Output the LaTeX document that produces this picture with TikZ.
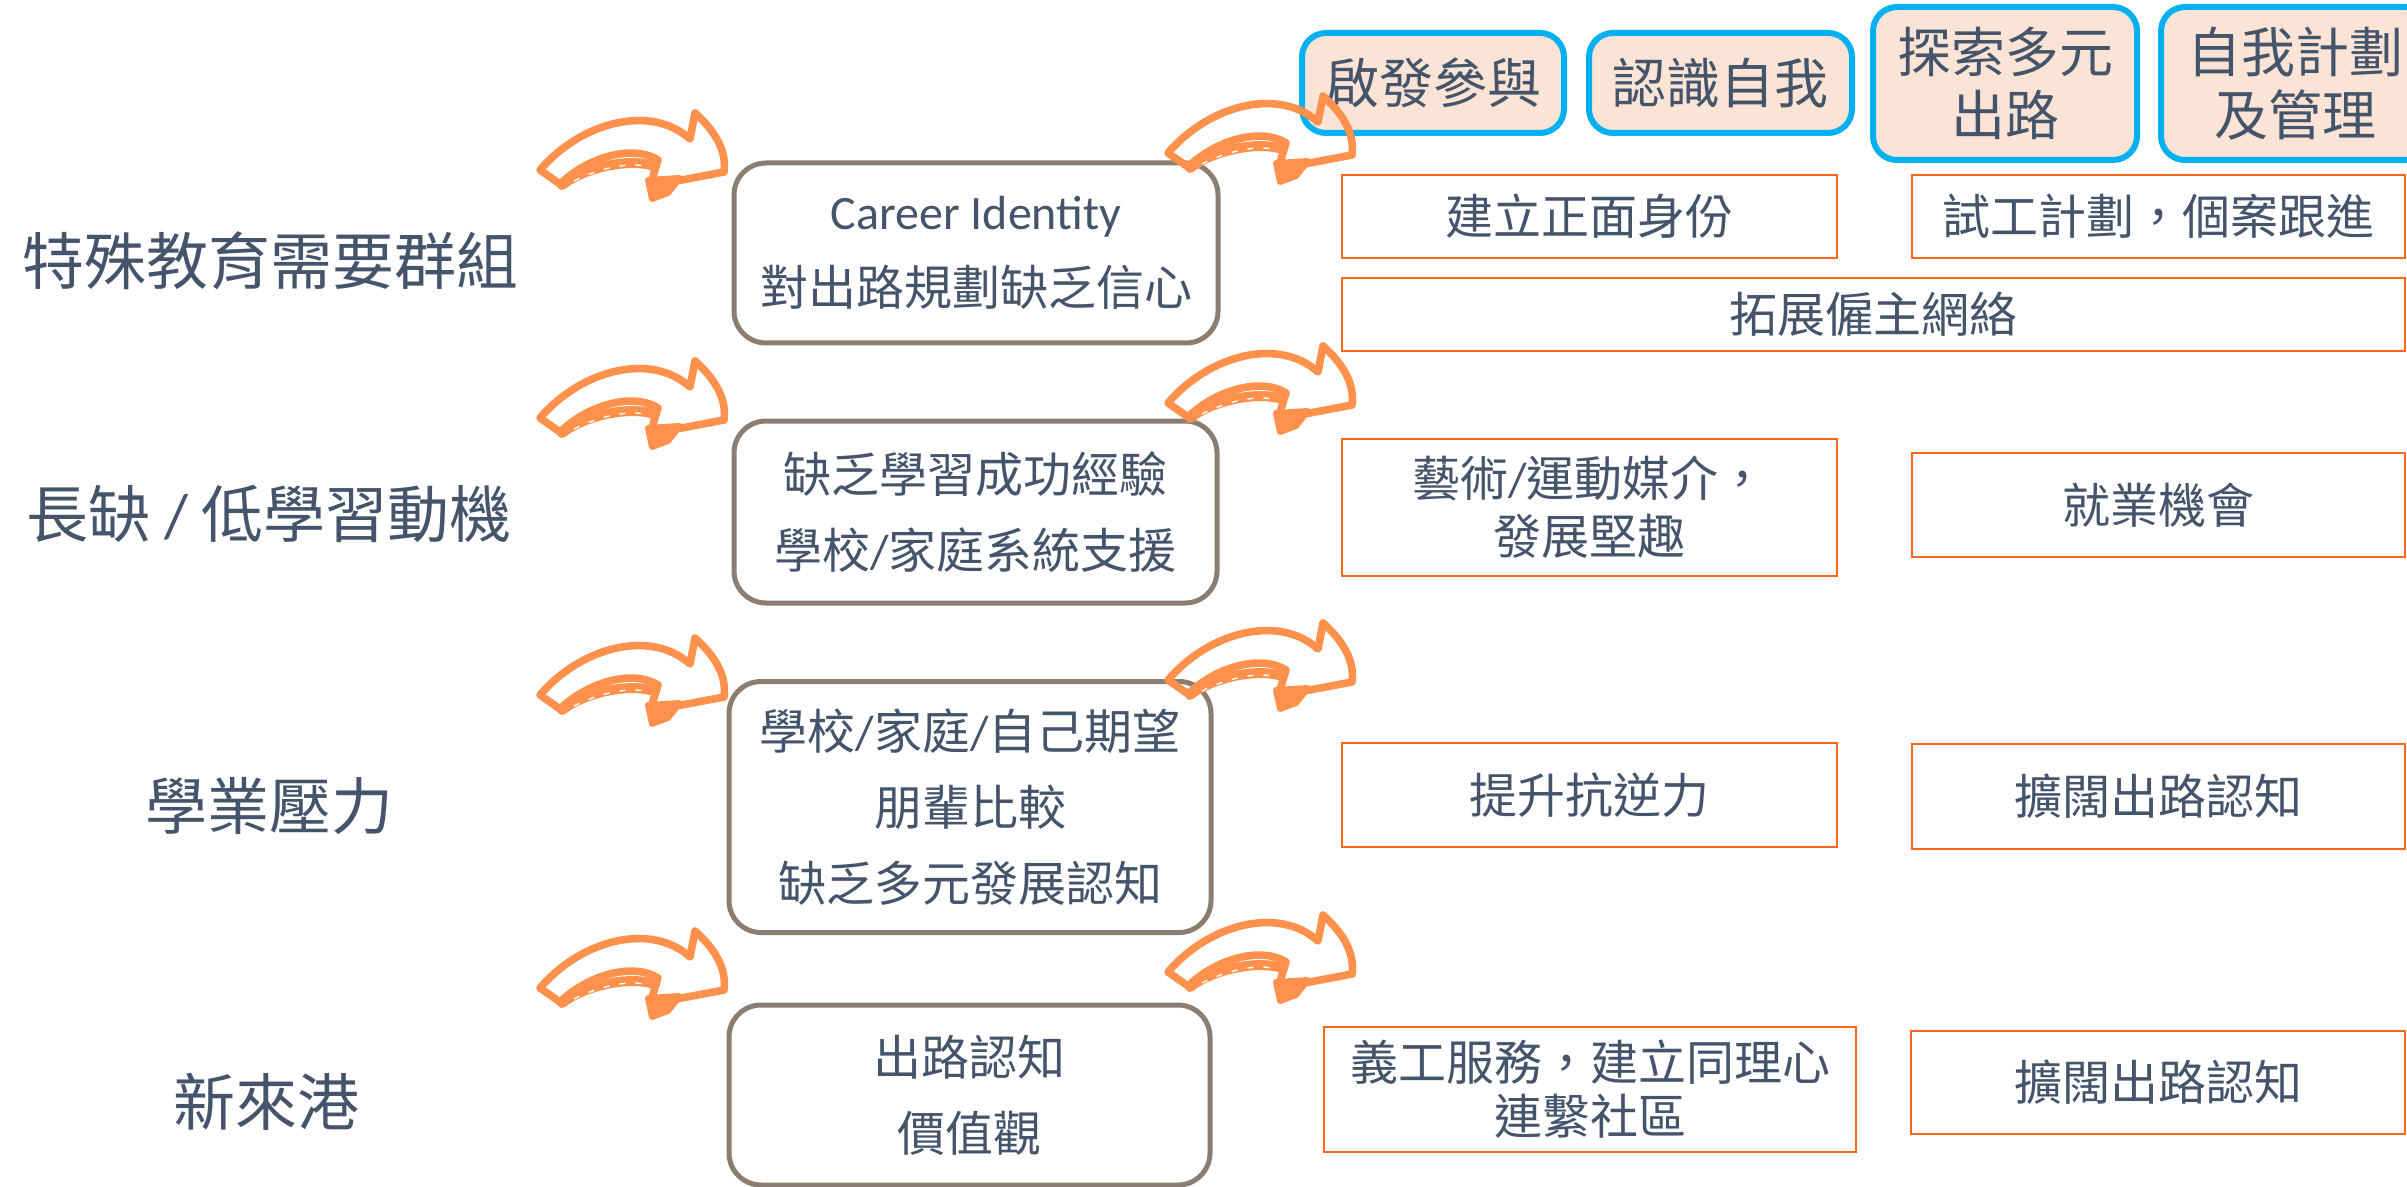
\documentclass[tikz,border=0pt]{standalone}
\usepackage{fontspec}
\setmainfont{Noto Sans CJK TC}
\newfontfamily\lat{Carlito}
\definecolor{txt}{HTML}{44546A}
\definecolor{arrorange}{RGB}{255,145,77}
\definecolor{gline}{RGB}{139,125,111}
\definecolor{oline}{RGB}{255,102,25}
\definecolor{blueln}{RGB}{0,176,240}
\definecolor{pfill}{RGB}{251,228,214}
\begin{document}
\begin{tikzpicture}[x=0.5pt,y=-0.5pt,
  mid/.style={draw=gline, line width=2.5pt, rounded corners=16pt, inner sep=0pt, text=txt, align=center, font=\fontsize{24}{38}\selectfont},
  obx/.style={draw=oline, line width=1.3pt, inner sep=0pt, text=txt, align=center, font=\fontsize{24}{29}\selectfont},
  tbx/.style={draw=blueln, fill=pfill, line width=3pt, rounded corners=12pt, inner sep=0pt, text=txt, align=center, font=\fontsize{27}{31.5}\selectfont},
  lbl/.style={text=txt, font=\fontsize{31}{36}\selectfont, inner sep=0pt},
  sketcharrow/.pic={
    \draw[draw=arrorange, line width=3.8pt, line join=round, line cap=round]
      (0,0) .. controls (40,-47) and (110,-67) .. (150,-31) -- (155,-57)
      .. controls (174,-40) and (187,-20) .. (184,2) -- (110,16) -- (118,-10)
      .. controls (95,-25) and (50,-15) .. (20,14) -- cycle;
    \draw[draw=arrorange, line width=5pt, line cap=round]
      (22,15) .. controls (45,-3) and (90,-12) .. (114,-4);
    \draw[draw=arrorange, fill=arrorange, line width=3pt, line join=round]
      (108,10) -- (140,8) -- (128,23) -- (112,29) -- cycle;
    \draw[white, line width=0.7pt, dash pattern=on 3pt off 5pt]
      (34,11) .. controls (55,0) and (85,-8) .. (104,-4);
  }
]
\useasboundingbox (0,0) rectangle (2407,1187);

% left labels
\node[lbl] (l1) at (270,261) {特殊教育需要群組};
\node[lbl] (l2) at (269,514) {長缺{\lat\ / }低學習動機};
\node[lbl] (l3) at (269,806) {學業壓力};
\node[lbl] (l4) at (266,1102) {新來港};

% middle boxes
\node[mid, minimum width=242pt, minimum height=90pt] (m1) at (976,253)
  {{\lat Career Identity}\\對出路規劃缺乏信心};
\node[mid, minimum width=241.5pt, minimum height=91pt] (m2) at (975.5,512)
  {缺乏學習成功經驗\\學校{\lat /}家庭系統支援};
\node[mid, minimum width=241pt, minimum height=125.5pt] (m3) at (970,807)
  {學校{\lat /}家庭{\lat /}自己期望\\朋輩比較\\缺乏多元發展認知};
\node[mid, minimum width=240.5pt, minimum height=90pt] (m4) at (969.5,1095)
  {出路認知\\價值觀};

% top blue boxes
\node[tbx, minimum width=131pt, minimum height=50pt] (b1) at (1433,83) {啟發參與};
\node[tbx, minimum width=131.5pt, minimum height=50pt] (b2) at (1720.5,83) {認識自我};
\node[tbx, minimum width=132pt, minimum height=76.5pt] (b3) at (2005,83.5) {探索多元\\出路};
\node[tbx, minimum width=134pt, minimum height=76.5pt] (b4) at (2295,83.5) {自我計劃\\及管理};

% orange boxes
\node[obx, minimum width=247.5pt, minimum height=41.5pt] (o1) at (1589.5,216.5) {建立正面身份};
\node[obx, minimum width=246.5pt, minimum height=41.5pt] (o2) at (2158.5,216.5) {試工計劃，個案跟進};
\node[obx, minimum width=531.5pt, minimum height=36.5pt] (o3) at (1873.5,314.5) {拓展僱主網絡};
\node[obx, minimum width=247.5pt, minimum height=68.5pt] (o4) at (1589.5,507.5) {藝術{\lat /}運動媒介，\\發展堅趣};
\node[obx, minimum width=246.5pt, minimum height=52pt] (o5) at (2158.5,505) {就業機會};
\node[obx, minimum width=247.5pt, minimum height=52pt] (o6) at (1589.5,795) {提升抗逆力};
\node[obx, minimum width=246.5pt, minimum height=52.5pt] (o7) at (2158.5,796.5) {擴闊出路認知};
\node[obx, minimum width=266pt, minimum height=62.5pt, font=\fontsize{24}{27}\selectfont] (o8) at (1590,1089.5) {義工服務，建立同理心\\連繫社區};
\node[obx, minimum width=247pt, minimum height=51.5pt] (o9) at (2158,1082.5) {擴闊出路認知};

% sketch arrows
\pic at (540,170) {sketcharrow};
\pic at (540,418) {sketcharrow};
\pic at (540,695) {sketcharrow};
\pic at (540,988) {sketcharrow};
\pic at (1168,153) {sketcharrow};
\pic at (1168,403) {sketcharrow};
\pic at (1168,680) {sketcharrow};
\pic at (1168,972) {sketcharrow};
\end{tikzpicture}
\end{document}
